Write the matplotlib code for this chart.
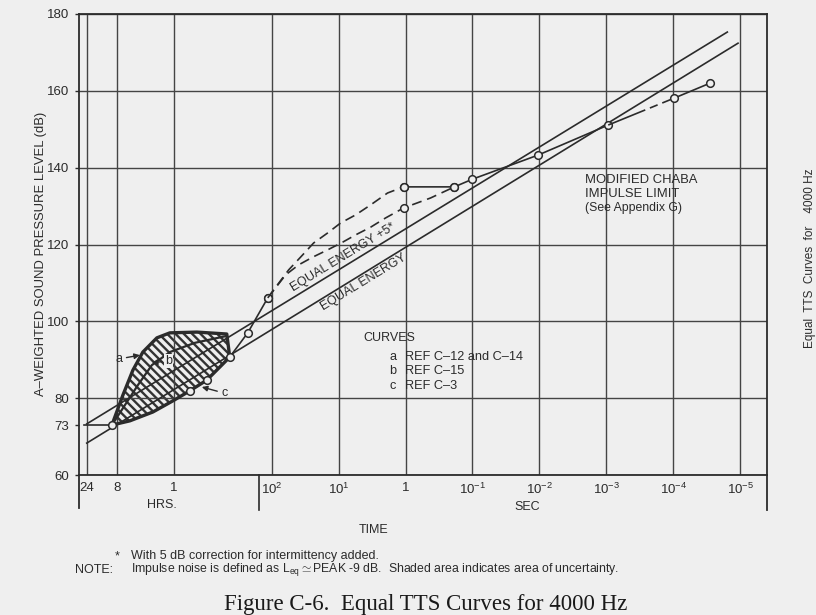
import numpy as np
import matplotlib.pyplot as plt

plt.rcParams['font.family'] = ['Liberation Sans', 'DejaVu Sans']
plt.rcParams['mathtext.fontset'] = 'custom'
plt.rcParams['mathtext.rm'] = 'Liberation Sans'
plt.rcParams['mathtext.it'] = 'Liberation Sans:italic'
plt.rcParams['hatch.linewidth'] = 1.7

INK = '#2b2b2b'
PAPER = '#efefef'
W, H = 816, 615

# time axis, values are log10(seconds); the hours part of the scan is a bit compressed
tick_times = [86400, 28800, 3600, 1e2, 1e1, 1, 1e-1, 1e-2, 1e-3, 1e-4, 1e-5]
tick_labels = ['24', '8', '1', '$10^{2}$', '$10^{1}$', '1', '$10^{-1}$',
               '$10^{-2}$', '$10^{-3}$', '$10^{-4}$', '$10^{-5}$']
level_ticks = [60, 80, 100, 120, 140, 160, 180]

# equal energy lines
ee5_logt = [4.94, -4.81]
ee5_db = [73.3, 175.3]
ee_logt = [4.94, -4.97]
ee_db = [68.3, 172.4]

# 73 dB from 24 h to 8 h
plateau_logt = [4.98, 4.54]
plateau_db = [73, 73]

# curve a: upper edge of shaded area
a_logt = [4.54, 4.365, 4.206, 4.048, 3.825, 3.619, 3.19, 2.714]
a_db = [73, 80.8, 87.3, 92.0, 95.7, 97.0, 97.2, 96.7]

# curve b
b_logt = [4.54, 4.333, 4.127, 3.905, 3.619, 3.222, 2.714]
b_db = [73, 78.2, 83.4, 88.6, 92.0, 94.4, 96.2]

# curve c: lower edge of shaded area, continued up to the dashed curves
c_logt = [4.54, 4.254, 3.889, 3.571, 3.302, 3.032, 2.825, 2.667, 2.381, 2.063]
c_db = [73, 74.1, 76.4, 79.3, 81.9, 84.7, 88.1, 90.7, 97.0, 106.1]

# dashed curves
up_logt = [2.063, 1.94, 1.746, 1.537, 1.373, 1.164, 0.97, 0.746, 0.522, 0.269, 0.03]
up_db = [106.1, 108.9, 113.4, 117.3, 120.4, 123.0, 125.6, 127.7, 130.3, 133.4, 135.0]
low_logt = [2.063, 1.791, 1.597, 1.388, 1.164, 0.94, 0.746, 0.522, 0.299, 0.03, -0.373, -0.731]
low_db = [106.1, 112.1, 114.7, 116.7, 118.6, 120.6, 122.5, 124.5, 126.9, 129.5, 132.1, 135.0]

# modified CHABA impulse limit
ch_logt = [0.03, -0.731, -1.0, -1.985, -3.03, -4.015, -4.552]
ch_db = [135.0, 135.0, 137.0, 143.3, 151.1, 158.1, 162.0]

HRS_SLOPE = 63 / 67


def fwd(u):
    u = np.asarray(u, float)
    return np.where(u <= 2, u, 2 + (u - 2) * HRS_SLOPE)


def inv(v):
    v = np.asarray(v, float)
    return np.where(v <= 2, v, 2 + (v - 2) / HRS_SLOPE)


def fxy(x, y):
    return x / W, 1 - y / H


fig = plt.figure(figsize=(W / 100, H / 100), dpi=100, facecolor=PAPER)
ax = fig.add_axes([79 / W, 1 - 475 / H, (767 - 79) / W, (475 - 14) / H])
ax.set_facecolor(PAPER)
ax.set_xscale('function', functions=(fwd, inv))
ax.set_xlim(5.063, -5.403)   # time runs from 24 h down to microseconds
ax.set_ylim(60, 180)

ax.set_xticks(np.log10(tick_times))
ax.set_xticklabels(tick_labels, fontsize=9.5, color=INK)
ax.tick_params(axis='x', length=0, pad=5)
ax.set_yticks(level_ticks)
ax.set_yticks([73], minor=True)
ax.set_yticklabels([str(v) for v in level_ticks], fontsize=9.5, color=INK)
ax.set_yticklabels(['73'], minor=True, fontsize=9.5, color=INK)
ax.tick_params(axis='y', which='both', length=3, width=1, color=INK, pad=4)
ax.grid(True, which='major', color='#444444', linewidth=1.0)
for s in ax.spines.values():
    s.set_color(INK)
    s.set_linewidth(1.3)

# hatched uncertainty area
poly_x = a_logt + c_logt[:8][::-1]
poly_y = a_db + c_db[:8][::-1]
ax.fill(poly_x, poly_y, facecolor='none', edgecolor='#333333', hatch='\\\\\\\\', linewidth=0)
ax.plot(poly_x + [poly_x[0]], poly_y + [poly_y[0]], color=INK, lw=2.4)

lk = dict(color=INK, lw=1.2)
mk = dict(marker='o', ms=5.5, mfc=PAPER, mec=INK, mew=1.1)
ax.plot(ee5_logt, ee5_db, **lk)
ax.plot(ee_logt, ee_db, **lk)
ax.plot(plateau_logt, plateau_db, **lk)
ax.plot(b_logt, b_db, color=INK, lw=1.6)
ax.plot(c_logt, c_db, markevery=[0, 4, 5, 7, 8, 9], **lk, **mk)
ax.plot(up_logt, up_db, ls=(0, (6, 3.5)), markevery=[0, 10], **lk, **mk)
ax.plot(low_logt, low_db, ls=(0, (6, 3.5)), markevery=[9, 11], **lk, **mk)
ax.plot(ch_logt[:5], ch_db[:5], **lk, **mk)
ax.plot(ch_logt[4:6], ch_db[4:6], ls=(0, (24, 3, 5, 3)), **lk)
ax.plot(ch_logt[5:], ch_db[5:], **lk, **mk)

# axis break marks below the frame
ax.plot([2.206, 2.206], [0, -0.075], transform=ax.get_xaxis_transform(), clip_on=False, **lk)
ax.plot([0, 0], [0, -0.072], transform=ax.transAxes, clip_on=False, color=INK, lw=1.3)
ax.plot([1, 1], [0, -0.075], transform=ax.transAxes, clip_on=False, color=INK, lw=1.3)

tk = dict(color=INK, fontsize=9)
ax.text(0.925, 116.7, 'EQUAL ENERGY +5*', rotation=31.5, rotation_mode='anchor',
        ha='center', va='center', **tk)
ax.text(0.627, 110.2, 'EQUAL ENERGY', rotation=31.5, rotation_mode='anchor',
        ha='center', va='center', **tk)

ap = dict(arrowstyle='-|>', color=INK, lw=1.0, mutation_scale=8, shrinkA=1, shrinkB=0)
ax.annotate('a', xy=(4.095, 91.2), xytext=(4.43, 90.2), ha='center', va='center',
            arrowprops=ap, **tk)
ax.annotate('b', xy=(3.905, 89.2), xytext=(3.64, 89.7), ha='center', va='center',
            arrowprops=ap, bbox=dict(facecolor=PAPER, edgecolor='none', pad=1.0), **tk)
ax.annotate('c', xy=(3.111, 82.9), xytext=(2.75, 81.3), ha='center', va='center',
            arrowprops=ap, **tk)

# texts around the chart
fig.text(*fxy(41, 254), 'A\u2013WEIGHTED SOUND PRESSURE LEVEL (dB)', rotation=90,
         ha='center', va='center', color=INK, fontsize=9.4)
fig.text(*fxy(585, 180), 'MODIFIED CHABA', ha='left', va='center', color=INK, fontsize=9.4)
fig.text(*fxy(585, 194), 'IMPULSE LIMIT', ha='left', va='center', color=INK, fontsize=9.4)
fig.text(*fxy(585, 208), '(See Appendix G)', ha='left', va='center', color=INK, fontsize=8.8)

fig.text(*fxy(363, 338), 'CURVES', ha='left', va='center', **tk)
for i, (k, ref) in enumerate([('a', 'REF C\u201312 and C\u201314'),
                              ('b', 'REF C\u201315'),
                              ('c', 'REF C\u20133')]):
    yy = 357 + 14.5 * i
    fig.text(*fxy(389, yy), k, ha='left', va='center', color=INK, fontsize=9.2)
    fig.text(*fxy(405, yy), ref, ha='left', va='center', color=INK, fontsize=9.2)

fig.text(*fxy(162, 505), 'HRS.', ha='center', va='center', **tk)
fig.text(*fxy(527, 507), 'SEC', ha='center', va='center', **tk)
fig.text(*fxy(374, 530), 'TIME', ha='center', va='center', **tk)

fig.text(*fxy(117, 556), '*', ha='center', va='center', color=INK, fontsize=9)
fig.text(*fxy(131, 556), 'With 5 dB correction for intermittency added.',
         ha='left', va='center', color=INK, fontsize=9)
fig.text(*fxy(75, 570), 'NOTE:', ha='left', va='center', color=INK, fontsize=9)
fig.text(*fxy(131, 570),
         r'Impulse noise is defined as L$_{\mathrm{eq}}$$\simeq$PEAK -9 dB.  Shaded area indicates area of uncertainty.',
         ha='left', va='center', color=INK, fontsize=8.8)

fig.text(*fxy(426, 610), 'Figure C-6.  Equal TTS Curves for 4000 Hz', ha='center',
         va='baseline', color='#1a1a1a', fontsize=16.5, family='Liberation Serif')
fig.text(*fxy(810, 258), 'Equal  TTS  Curves  for    4000 Hz', rotation=90,
         ha='center', va='center', color=INK, fontsize=8.5)

fig.savefig('out.png', dpi=100, facecolor=PAPER)
